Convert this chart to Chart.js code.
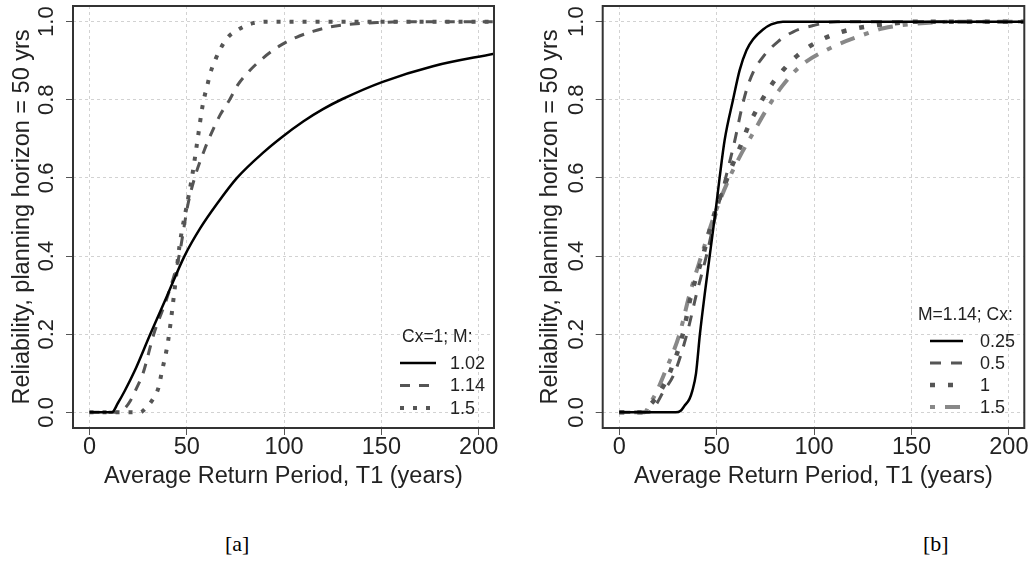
<!DOCTYPE html>
<html>
<head>
<meta charset="utf-8">
<script src="https://cdn.jsdelivr.net/npm/chart.js@4/dist/chart.umd.min.js"></script>
<style>
    body { margin: 0; background: #fff; width: 1030px; height: 577px; position: relative; overflow: hidden; }
    canvas { position: absolute; top: 0; }
    #graficaA { left: 0; }
    #graficaB { left: 515px; }
    .etiqueta { position: absolute; top: 531px; font: 22px "Liberation Serif", "Times New Roman", serif; color: #000; }
</style>
</head>
<body>
<canvas id="graficaA" width="515" height="500"></canvas>
<canvas id="graficaB" width="515" height="500"></canvas>
<div class="etiqueta" style="left:225px">[a]</div>
<div class="etiqueta" style="left:923px">[b]</div>

<script>
// ================= DATOS =================
const xTicks = [0, 50, 100, 150, 200];
const yTicks = [0, 0.2, 0.4, 0.6, 0.8, 1.0];
const yTickLabels = ['0.0', '0.2', '0.4', '0.6', '0.8', '1.0'];
const xTitle = 'Average Return Period, T1 (years)';
const yTitle = 'Reliability, planning horizon = 50 yrs';

// Panel [a]: Cx = 1, varia M
const legendA = 'Cx=1; M:';
const labelsA = ['1.02', '1.14', '1.5'];
const tM102 = [0, 11.5, 14.6, 18, 23.1, 31.2, 40, 48.8, 57, 66, 75.8, 90, 98.5, 110, 120, 130, 150.7, 176.5, 208];
const rM102 = [0, 0, 0.024, 0.054, 0.105, 0.2, 0.3, 0.4, 0.472, 0.537, 0.6, 0.668, 0.703, 0.745, 0.776, 0.802, 0.846, 0.886, 0.918];
const tM114 = [0, 14, 18, 21, 24, 27.5, 33, 40.3, 46, 50.5, 54, 59, 62.6, 67, 72, 76.2, 82, 89, 97.7, 106.3, 114.8, 123.4, 135.4, 150, 165, 208];
const rM114 = [0, 0, 0.01, 0.03, 0.06, 0.1, 0.2, 0.3, 0.4, 0.53, 0.6, 0.671, 0.714, 0.76, 0.8, 0.838, 0.873, 0.906, 0.938, 0.96, 0.975, 0.986, 0.994, 0.998, 1.0, 1.0];
const tM150 = [0, 26, 28.3, 32.6, 35.5, 37, 40.3, 43.4, 46.3, 50, 52.6, 55.3, 58.3, 60.5, 62.2, 64.8, 67.2, 71.1, 76.2, 83.1, 92, 208];
const rM150 = [0, 0, 0.008, 0.034, 0.064, 0.1, 0.18, 0.3, 0.428, 0.53, 0.6, 0.69, 0.79, 0.836, 0.87, 0.904, 0.93, 0.96, 0.979, 0.995, 1.0, 1.0];

// Panel [b]: M = 1.14, varia Cx
const legendB = 'M=1.14; Cx:';
const labelsB = ['0.25', '0.5', '1', '1.5'];
const tC025 = [0, 29, 31.5, 33.5, 36, 37.5, 39.4, 41.4, 43.8, 46.4, 49.8, 51.5, 54.1, 58.4, 61.8, 65.3, 68.7, 73.8, 78, 84, 208];
const rC025 = [0, 0, 0.004, 0.017, 0.034, 0.055, 0.1, 0.2, 0.3, 0.4, 0.53, 0.6, 0.697, 0.8, 0.876, 0.927, 0.955, 0.98, 0.993, 1.0, 1.0];
const tC050 = [0, 15, 18.9, 22.3, 28.3, 34.7, 39.5, 44.7, 49.3, 54.6, 59.5, 62.7, 65.3, 68.7, 73.8, 81.5, 89.3, 99.5, 112, 208];
const rC050 = [0, 0, 0.02, 0.05, 0.1, 0.2, 0.3, 0.4, 0.5, 0.6, 0.7, 0.775, 0.825, 0.87, 0.91, 0.949, 0.974, 0.99, 1.0, 1.0];
const tC100 = [0, 11, 16, 20.6, 25.8, 32.6, 36.9, 42.9, 48.3, 55.5, 58, 63.5, 66.1, 69.5, 73, 76.4, 79.8, 84.1, 89.3, 100.4, 113, 128.8, 137, 155, 208];
const rC100 = [0, 0, 0.02, 0.05, 0.1, 0.2, 0.3, 0.4, 0.5, 0.6, 0.632, 0.697, 0.731, 0.765, 0.797, 0.825, 0.85, 0.876, 0.904, 0.945, 0.972, 0.989, 0.994, 1.0, 1.0];
const tC150 = [0, 13, 15.5, 18.9, 23.2, 30.9, 36, 42.1, 48.5, 56.5, 61.8, 69.5, 75.6, 83.3, 92.7, 108.2, 125, 135.6, 151, 175, 208];
const rC150 = [0, 0, 0.02, 0.05, 0.1, 0.2, 0.3, 0.4, 0.5, 0.6, 0.654, 0.722, 0.775, 0.833, 0.885, 0.932, 0.966, 0.983, 0.994, 1.0, 1.0];

// ================= PLUGINS =================
Chart.defaults.font.family = '"Liberation Sans", Arial, sans-serif';

const puntos = (xs, ys) => xs.map((x, i) => ({ x, y: ys[i] }));

// etiquetas del eje Y giradas (como en R)
const etiquetasY = {
    id: 'etiquetasY',
    afterDraw(chart) {
        const { ctx, chartArea, scales: { y } } = chart;
        ctx.save();
        ctx.fillStyle = '#222';
        ctx.font = '22px "Liberation Sans", Arial, sans-serif';
        ctx.textAlign = 'center';
        ctx.textBaseline = 'middle';
        yTicks.forEach((v, i) => {
            ctx.save();
            ctx.translate(chartArea.left - 26, y.getPixelForValue(v));
            ctx.rotate(-Math.PI / 2);
            ctx.fillText(yTickLabels[i], 0, 0);
            ctx.restore();
        });
        ctx.restore();
    }
};

// marco alrededor del area
const marco = {
    id: 'marco',
    afterDatasetsDraw(chart) {
        const { ctx, chartArea: a } = chart;
        ctx.save();
        ctx.strokeStyle = '#333';
        ctx.lineWidth = 2;
        ctx.strokeRect(a.left, a.top, a.right - a.left, a.bottom - a.top);
        ctx.restore();
    }
};

// leyenda dentro del grafico
const leyenda = {
    id: 'leyenda',
    afterDraw(chart, args, o) {
        const ctx = chart.ctx;
        ctx.save();
        ctx.fillStyle = '#222';
        ctx.textBaseline = 'middle';
        ctx.textAlign = 'left';
        ctx.font = '17.5px "Liberation Sans", Arial, sans-serif';
        ctx.fillText(o.title, o.titleX, o.titleY);
        ctx.font = '18px "Liberation Sans", Arial, sans-serif';
        chart.data.datasets.forEach((ds, i) => {
            const yy = o.rowY0 + i * o.rowDy;
            ctx.save();
            ctx.strokeStyle = ds.borderColor;
            ctx.lineWidth = ds.borderWidth;
            ctx.setLineDash(ds.borderDash || []);
            ctx.beginPath();
            ctx.moveTo(o.lineX0, yy);
            ctx.lineTo(o.lineX1, yy);
            ctx.stroke();
            ctx.restore();
            ctx.fillText(ds.label, o.textX, yy + 1);
        });
        ctx.restore();
    }
};

// ================= GRAFICA =================
function crearPanel(id, datasets, opts) {
    return new Chart(document.getElementById(id), {
        type: 'line',
        data: { datasets },
        options: {
            responsive: false,
            animation: false,
            devicePixelRatio: 1,
            layout: { padding: { left: 0, right: opts.padRight, top: 6, bottom: 0 } },
            elements: { point: { radius: 0 }, line: { cubicInterpolationMode: 'monotone', borderCapStyle: 'butt' } },
            plugins: {
                legend: { display: false },
                tooltip: { enabled: false },
                leyenda: opts.leyenda
            },
            scales: {
                x: {
                    type: 'linear', min: -8.5, max: 207.9,
                    afterBuildTicks: s => { s.ticks = xTicks.map(v => ({ value: v })); },
                    afterFit: s => { s.height = 72; },
                    grid: { color: '#d2d2d2', lineWidth: 1, tickLength: 7, tickColor: '#555', tickWidth: 1 },
                    border: { display: false, dash: [3, 3] },
                    ticks: { color: '#222', font: { size: 23.5 }, padding: -2, maxRotation: 0, autoSkip: false, callback: v => String(v) },
                    title: { display: true, text: xTitle, color: '#222', font: { size: 23.5, lineHeight: 1.2 }, padding: { top: 0, bottom: 9 } }
                },
                y: {
                    type: 'linear', min: -0.04, max: 1.04,
                    afterBuildTicks: s => { s.ticks = yTicks.map(v => ({ value: v })); },
                    afterFit: s => { s.width = opts.yWidth; },
                    grid: { color: '#d2d2d2', lineWidth: 1, tickLength: 7, tickColor: '#555', tickWidth: 1 },
                    border: { display: false, dash: [3, 3] },
                    ticks: { display: false },
                    title: { display: true, text: yTitle, color: '#222', font: { size: 23.5, lineHeight: 1.2 }, padding: { top: opts.yTitlePad, bottom: 0 } }
                }
            }
        },
        plugins: [etiquetasY, marco, leyenda]
    });
}

document.addEventListener("DOMContentLoaded", () => {
    crearPanel('graficaA', [
        { label: labelsA[0], data: puntos(tM102, rM102), borderColor: '#000', borderWidth: 2.5 },
        { label: labelsA[1], data: puntos(tM114, rM114), borderColor: '#555', borderWidth: 3, borderDash: [10, 9] },
        { label: labelsA[2], data: puntos(tM150, rM150), borderColor: '#555', borderWidth: 4, borderDash: [4, 9] }
    ], {
        padRight: 21, yWidth: 73, yTitlePad: 8,
        leyenda: { title: legendA, titleX: 402, titleY: 337, rowY0: 363, rowDy: 22.5, lineX0: 400, lineX1: 436, textX: 450 }
    });

    crearPanel('graficaB', [
        { label: labelsB[0], data: puntos(tC025, rC025), borderColor: '#000', borderWidth: 2.5 },
        { label: labelsB[1], data: puntos(tC050, rC050), borderColor: '#555', borderWidth: 3, borderDash: [11, 10] },
        { label: labelsB[2], data: puntos(tC100, rC100), borderColor: '#555', borderWidth: 4.5, borderDash: [5, 13] },
        { label: labelsB[3], data: puntos(tC150, rC150), borderColor: '#888', borderWidth: 4, borderDash: [5, 10, 15, 10] }
    ], {
        padRight: 5.7, yWidth: 87.7, yTitlePad: 21,
        leyenda: { title: legendB, titleX: 403, titleY: 315, rowY0: 341, rowDy: 22, lineX0: 415, lineX1: 448, textX: 465 }
    });
});
</script>
</body>
</html>
